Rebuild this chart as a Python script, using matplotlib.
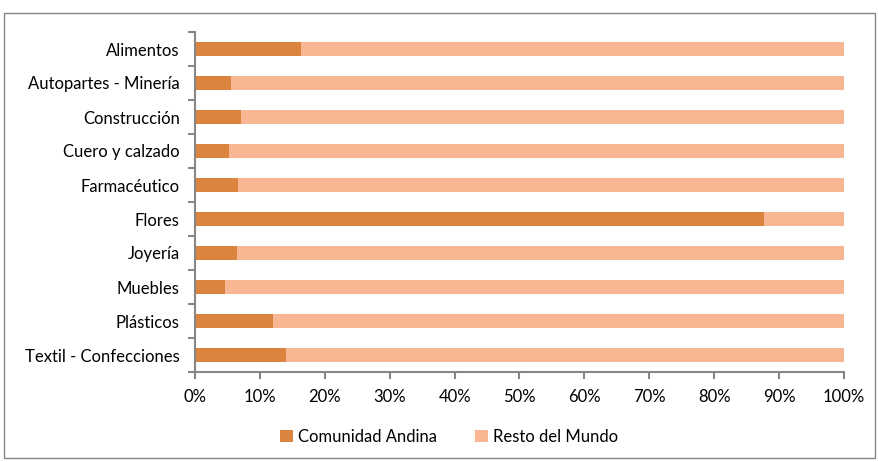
import matplotlib
matplotlib.use("Agg")
import matplotlib.pyplot as plt
import numpy as np
from matplotlib.patches import Rectangle
from matplotlib.ticker import FixedLocator, PercentFormatter

categories = ["Alimentos", "Autopartes - Minería", "Construcción", "Cuero y calzado",
              "Farmacéutico", "Flores", "Joyería", "Muebles", "Plásticos",
              "Textil - Confecciones"]
andina = [16.3, 5.6, 7.1, 5.3, 6.7, 87.7, 6.5, 4.6, 12.0, 14.0]
resto = [100 - v for v in andina]
xticks = [0, 10, 20, 30, 40, 50, 60, 70, 80, 90, 100]

c_andina = "#DA843F"
c_resto = "#F9B692"
gray = "#868686"

plt.rcParams['font.family'] = ['Lato', 'DejaVu Sans']

fig = plt.figure(figsize=(8.79, 4.62), dpi=100)
fig.patches.append(Rectangle((4/879, 1-458/462), 871/879, 445/462, transform=fig.transFigure,
                             fill=False, edgecolor=gray, linewidth=1.0))
ax = fig.add_axes([195/879, 1-372/462, 649/879, 340/462])

y = np.arange(len(categories))
ax.barh(y, andina, height=0.4, color=c_andina, label="Comunidad Andina")
ax.barh(y, resto, left=andina, height=0.4, color=c_resto, label="Resto del Mundo")

ax.set_xlim(0, 100)
ax.set_ylim(len(categories) - 0.5, -0.5)
ax.set_xticks(xticks)
ax.xaxis.set_major_formatter(PercentFormatter(decimals=0))
ax.set_yticks(y)
ax.set_yticklabels(categories)
ax.yaxis.set_minor_locator(FixedLocator(np.arange(-0.5, len(categories), 1)))
ax.tick_params(axis='y', which='major', length=0, pad=11, labelsize=12, colors='black')
ax.tick_params(axis='y', which='minor', length=5, width=1.5, color=gray)
ax.tick_params(axis='x', which='major', length=5, width=1.5, color=gray, labelsize=12,
               labelcolor='black', pad=7)

for s in ['top', 'right']:
    ax.spines[s].set_visible(False)
for s in ['left', 'bottom']:
    ax.spines[s].set_color(gray)
    ax.spines[s].set_linewidth(1.5)

fig.legend(loc='center', bbox_to_anchor=(449/879, 1-437/462), ncol=2, frameon=False,
           fontsize=12, handlelength=0.75, handleheight=0.75, handletextpad=0.3,
           columnspacing=2.3)

fig.savefig("out.png", dpi=100)
